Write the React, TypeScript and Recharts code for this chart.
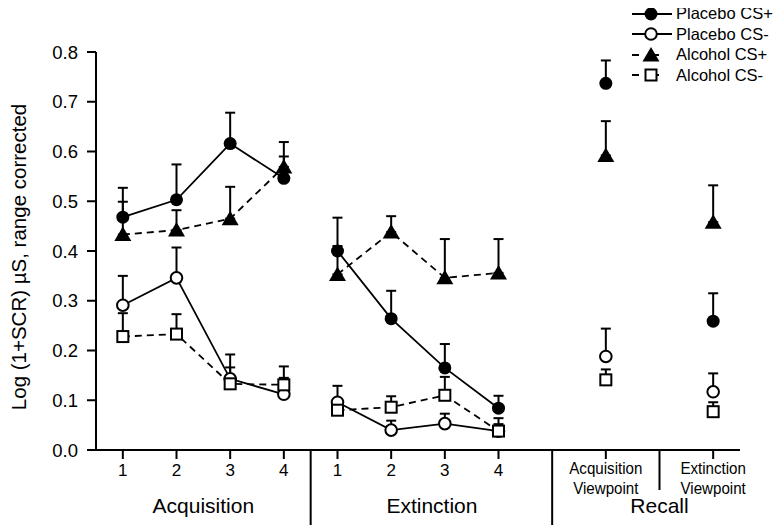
import React from 'react';
import { ComposedChart, Line, XAxis, YAxis, ErrorBar, Legend } from 'recharts';

// x positions of the measured points: Acquisition 1-4, Extinction 1-4, Recall (two viewpoints)
const pointX = [0, 1, 2, 3, 4, 5, 6, 7, 9, 11];
const pointLabels = ['1', '2', '3', '4', '1', '2', '3', '4', 'Acquisition\nViewpoint', 'Extinction\nViewpoint'];

// breaks between the phases (lines are not joined across them)
const gapX = [3.5, 8, 10];
const phaseNames = ['Acquisition', 'Extinction', 'Recall'];
const phaseX = [1.5, 5.76, 10];

const placeboPlus = [0.468, 0.503, 0.616, 0.546, 0.4, 0.264, 0.165, 0.084, 0.737, 0.259];
const placeboPlusErr = [0.059, 0.071, 0.062, 0.044, 0.067, 0.056, 0.048, 0.025, 0.046, 0.056];
const placeboMinus = [0.291, 0.346, 0.143, 0.112, 0.096, 0.04, 0.053, 0.038, 0.188, 0.117];
const placeboMinusErr = [0.059, 0.061, 0.049, 0.033, 0.033, 0.019, 0.02, 0.014, 0.056, 0.037];
const alcoholPlus = [0.433, 0.442, 0.465, 0.569, 0.353, 0.438, 0.346, 0.356, 0.592, 0.458];
const alcoholPlusErr = [0.066, 0.04, 0.064, 0.05, 0.057, 0.032, 0.078, 0.068, 0.069, 0.074];
const alcoholMinus = [0.228, 0.233, 0.133, 0.131, 0.08, 0.086, 0.11, 0.038, 0.141, 0.077];
const alcoholMinusErr = [0.047, 0.04, 0.033, 0.037, 0.015, 0.022, 0.037, 0.026, 0.021, 0.019];

const yTicks = [0, 0.1, 0.2, 0.3, 0.4, 0.5, 0.6, 0.7, 0.8];

const FONT = "'Liberation Sans', Arial, sans-serif";

const series = [
  { key: 'pp', name: 'Placebo CS+', marker: 'filledCircle', dash: undefined },
  { key: 'pm', name: 'Placebo CS-', marker: 'openCircle', dash: undefined },
  { key: 'ap', name: 'Alcohol CS+', marker: 'triangle', dash: '7 5' },
  { key: 'am', name: 'Alcohol CS-', marker: 'square', dash: '7 5' },
];

const rows: any[] = pointX.map((x, i) => ({
  x,
  pp: placeboPlus[i],
  ppE: placeboPlusErr[i],
  pm: placeboMinus[i],
  pmE: placeboMinusErr[i],
  ap: alcoholPlus[i],
  apE: alcoholPlusErr[i],
  am: alcoholMinus[i],
  amE: alcoholMinusErr[i],
}));
gapX.forEach((x) => rows.push({ x, pp: null, pm: null, ap: null, am: null }));
const data = rows.sort((a, b) => a.x - b.x);

const xTicks = Array.from(new Set([...pointX, ...gapX, ...phaseX])).sort((a, b) => a - b);

const Marker = ({ kind, cx, cy }: any) => {
  if (cx == null || cy == null || isNaN(cx) || isNaN(cy)) return <g />;
  if (kind === 'filledCircle') return <circle cx={cx} cy={cy} r={6.5} fill="#000" />;
  if (kind === 'openCircle') return <circle cx={cx} cy={cy} r={5.8} fill="#fff" stroke="#000" strokeWidth={2} />;
  if (kind === 'triangle')
    return <polygon points={`${cx},${cy - 8} ${cx - 8.5},${cy + 6.5} ${cx + 8.5},${cy + 6.5}`} fill="#000" />;
  return <rect x={cx - 5.5} y={cy - 5.5} width={11} height={11} fill="#fff" stroke="#000" strokeWidth={2} />;
};

const XTick = (props: any) => {
  const { x, y, payload } = props;
  const v = payload.value;
  const parts: any[] = [];
  const i = pointX.indexOf(v);
  if (i >= 0) {
    parts.push(<line key="t" x1={x} x2={x} y1={y} y2={y + 9} stroke="#000" strokeWidth={2} />);
    const lines = pointLabels[i].split('\n');
    if (lines.length === 1) {
      parts.push(
        <text key="l" x={x} y={y + 26} textAnchor="middle" fontSize={17} fontFamily={FONT} fill="#000">
          {lines[0]}
        </text>
      );
    } else {
      // narrow lettering under the recall ticks
      lines.forEach((s, k) =>
        parts.push(
          <text
            key={'l' + k}
            x={x}
            y={y + 24 + k * 20}
            textAnchor="middle"
            fontSize={17}
            fontFamily={FONT}
            fill="#000"
            transform={`translate(${x} 0) scale(0.89 1) translate(${-x} 0)`}
          >
            {s}
          </text>
        )
      );
    }
  }
  const g = gapX.indexOf(v);
  if (g >= 0) {
    parts.push(<line key="s" x1={x} x2={x} y1={y} y2={y + (g < 2 ? 80 : 40)} stroke="#000" strokeWidth={2} />);
  }
  const p = phaseX.indexOf(v);
  if (p >= 0) {
    parts.push(
      <text key="p" x={x} y={y + 63} textAnchor="middle" fontSize={21} fontFamily={FONT} fill="#000">
        {phaseNames[p]}
      </text>
    );
  }
  return <g>{parts}</g>;
};

const YLabel = (props: any) => {
  const vb = props.viewBox || { x: 0, y: 44, width: 88, height: 398 };
  const cx = vb.x + 18;
  const cy = vb.y + vb.height / 2 + 6;
  return (
    <text
      x={cx}
      y={cy}
      transform={`rotate(-90 ${cx} ${cy})`}
      textAnchor="middle"
      fontSize={20.5}
      fontFamily={FONT}
      fill="#000"
    >
      Log (1+SCR) µS, range corrected
    </text>
  );
};

const LegendBox = () => (
  <div style={{ position: 'absolute', left: 624, top: -4.5, fontFamily: FONT, fontSize: 16.5, color: '#000' }}>
    {series.map((s) => (
      <div key={s.key} style={{ height: 20.5, display: 'flex', alignItems: 'center', whiteSpace: 'nowrap' }}>
        <svg width={44} height={20} style={{ display: 'block' }}>
          <line
            x1={0}
            x2={40}
            y1={10}
            y2={10}
            stroke="#000"
            strokeWidth={2}
            strokeDasharray={s.dash ? '7 13' : undefined}
          />
          <Marker kind={s.marker} cx={19} cy={10} />
        </svg>
        <span>{s.name}</span>
      </div>
    ))}
  </div>
);

export default function App() {
  return (
    <ComposedChart
      width={774}
      height={517}
      data={data}
      margin={{ top: 44, right: 42, bottom: 0, left: 0 }}
      style={{ fontFamily: FONT }}
    >
      <XAxis
        dataKey="x"
        type="number"
        domain={[-0.5, 11.5]}
        ticks={xTicks}
        interval={0}
        tickSize={0}
        tickMargin={0}
        tickLine={false}
        tick={<XTick />}
        height={75}
        axisLine={{ stroke: '#000', strokeWidth: 2 }}
      />
      <YAxis
        type="number"
        domain={[0, 0.8]}
        ticks={yTicks}
        interval={0}
        width={88}
        tickSize={9}
        tickMargin={9}
        tickFormatter={(v: number) => v.toFixed(1)}
        tick={{ fontSize: 18.5, fill: '#000', fontFamily: FONT }}
        tickLine={{ stroke: '#000', strokeWidth: 2 }}
        axisLine={{ stroke: '#000', strokeWidth: 2 }}
        label={<YLabel />}
      />
      <Legend
        content={<LegendBox />}
        layout="vertical"
        align="right"
        verticalAlign="top"
        wrapperStyle={{ position: 'absolute', left: 0, top: 0, width: 0, height: 0, margin: 0, overflow: 'visible' }}
      />
      {series.map((s) => (
        <Line
          key={s.key}
          dataKey={s.key}
          name={s.name}
          type="linear"
          stroke="#000"
          strokeWidth={1.8}
          strokeDasharray={s.dash}
          connectNulls={false}
          isAnimationActive={false}
          activeDot={false}
          dot={(p: any) => <Marker key={p.index} kind={s.marker} cx={p.cx} cy={p.cy} />}
        >
          <ErrorBar
            dataKey={(d: any) => (d[s.key] == null ? null : [0, d[s.key + 'E']])}
            direction="y"
            width={5}
            stroke="#000"
            strokeWidth={2}
            isAnimationActive={false}
          />
        </Line>
      ))}
    </ComposedChart>
  );
}
